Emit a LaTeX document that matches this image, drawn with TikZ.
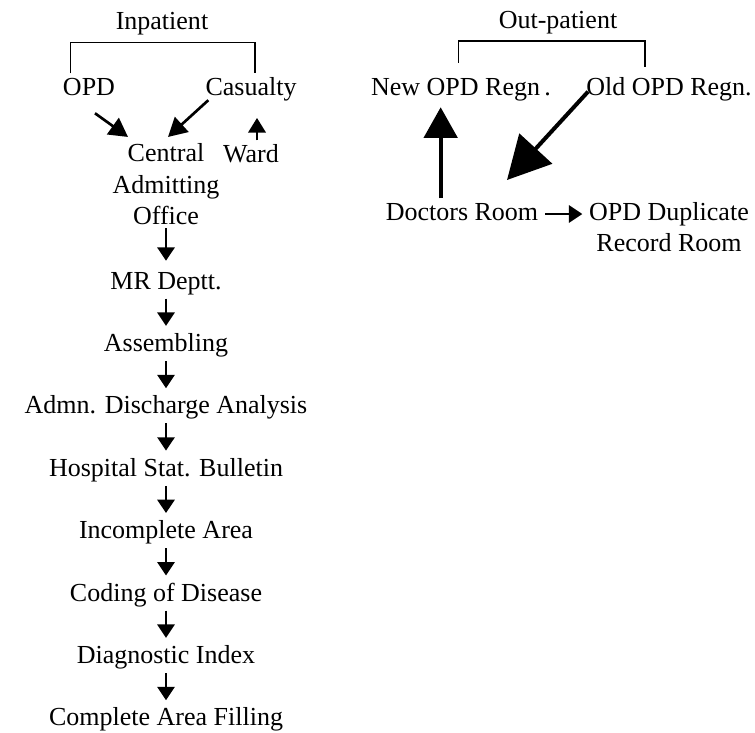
\documentclass[tikz,border=0pt]{standalone}
\usepackage{fontspec}
\setmainfont{Liberation Serif}
\usetikzlibrary{positioning,arrows.meta}

\begin{document}
\begin{tikzpicture}[x=0.75pt, y=-0.75pt, node distance=23.4pt,
    every node/.style={font=\fontsize{19.5}{23.6}\selectfont, inner sep=2pt},
    lbl/.style={text height=14pt, text depth=5pt},
    brk/.style={line width=1.2pt},
    flow/.style={line width=1.4pt, shorten >=3pt, -{Triangle[length=10pt,width=13pt]}},
    mid/.style={line width=2pt, -{Triangle[length=14pt,width=15pt]}},
    bigup/.style={line width=3pt, -{Triangle[length=23pt,width=25pt]}},
    bigdiag/.style={line width=3pt, -{Triangle[length=32pt,width=33pt]}}]
    \useasboundingbox (0,0) rectangle (755,732);

    % inpatient side
    \node[lbl, anchor=base] (inpat) at (162,29) {Inpatient};
    \node[lbl, anchor=base] (opd) at (89,95) {OPD};
    \node[lbl, anchor=base] (cas) at (251,95) {Casualty};
    \node[align=center] (cao) at (166,184.5) {Central\\Admitting\\Office};
    \node[lbl, anchor=base] (ward) at (251,162) {Ward};
    \node[lbl, anchor=base] (mr) at (166,289) {MR Deptt.};
    \node[lbl, below=of mr] (asm) {Assembling};
    \node[lbl, below=of asm] (adm) {Admn. Discharge Analysis};
    \node[lbl, below=of adm] (hsb) {Hospital Stat. Bulletin};
    \node[lbl, below=of hsb] (inc) {Incomplete Area};
    \node[lbl, below=of inc] (cod) {Coding of Disease};
    \node[lbl, below=of cod] (diag) {Diagnostic Index};
    \node[lbl, below=of diag] (cmp) {Complete Area Filling};

    \draw[brk] ([xshift=-14pt]opd.north) -- ++(0,-31) -| ([xshift=3pt]cas.north);
    \draw[mid] ([xshift=4.5pt,yshift=-6.5pt]opd.south) -- ([xshift=-28.5pt,yshift=3pt]cao.north);
    \draw[mid] ([xshift=4.3pt,yshift=3.3pt]cas.south west) -- ([xshift=1.5pt,yshift=3pt]cao.north);
    \draw[mid, shorten >=10pt, -{Triangle[length=11pt,width=13pt]}] ([xshift=4.5pt]ward.north) -- ([xshift=4.5pt]cas.south);

    \draw[flow, shorten >=5pt] (cao) -- (mr);
    \draw[flow] (mr) -- (asm);
    \draw[flow] (asm) -- (adm);
    \draw[flow] (adm) -- (hsb);
    \draw[flow] (hsb) -- (inc);
    \draw[flow] (inc) -- (cod);
    \draw[flow] (cod) -- (diag);
    \draw[flow] (diag) -- (cmp);

    % out-patient side
    \node[lbl, anchor=base] (outp) at (558,28) {Out-patient};
    \node[lbl, anchor=base] (newopd) at (461,95) {New OPD Regn\,.};
    \node[lbl, anchor=base] (oldopd) at (669,95) {Old OPD Regn.};
    \node[lbl, anchor=base] (doc) at (462,220) {Doctors Room};
    \node[align=center] (dup) at (669,227) {OPD Duplicate\\Record Room};
    \coordinate (drop) at (507,180);

    \draw[brk] ([xshift=-2pt,yshift=8pt]newopd.north) -- ++(0,-22) -| ([xshift=-18pt,yshift=5pt]oldopd.north);
    \draw[bigup, shorten >=2pt] ([xshift=-16pt]doc.north) -- ([xshift=-16pt]doc.north |- newopd.south);
    \draw[bigdiag] ([xshift=3.5pt,yshift=-2pt]oldopd.west) -- (drop);
    \draw[flow, shorten <=3pt] (doc.east) -- (doc.east -| dup.west);
\end{tikzpicture}
\end{document}
